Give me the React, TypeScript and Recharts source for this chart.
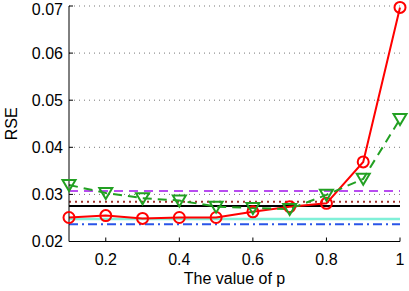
import React from 'react';
import { LineChart, Line, XAxis, YAxis, CartesianGrid, Label } from 'recharts';

const pValues = [0.1, 0.2, 0.3, 0.4, 0.5, 0.6, 0.7, 0.8, 0.9, 1.0];
const redSeries = [0.0251, 0.0255, 0.0249, 0.0251, 0.0251, 0.0263, 0.0274, 0.0281, 0.0369, 0.0697];
const greenSeries = [0.0320, 0.0303, 0.0292, 0.0287, 0.0274, 0.0271, 0.0269, 0.0299, 0.0333, 0.0460];
const baselineValues = [0.03072, 0.02845, 0.02754, 0.02478, 0.02365];
const xTicks = [0.2, 0.4, 0.6, 0.8, 1];
const yTicks = [0.02, 0.03, 0.04, 0.05, 0.06, 0.07];
const yTickLabels = ['0.02', '0.03', '0.04', '0.05', '0.06', '0.07'];
const xTickLabels = ['0.2', '0.4', '0.6', '0.8', '1'];

const baselineStyles = [
  { color: '#b84cf0', dash: '9 6', width: 2 },
  { color: '#a0302a', dash: '2 4', width: 2 },
  { color: '#000000', dash: undefined, width: 2 },
  { color: '#80f0d8', dash: undefined, width: 2.5 },
  { color: '#2a55e8', dash: '9 4 2 4', width: 2 },
];

const data = pValues.map((p, i) => {
  const row: Record<string, number> = { p, red: redSeries[i], green: greenSeries[i] };
  baselineValues.forEach((v, j) => {
    row['b' + j] = v;
  });
  return row;
});

const FONT = '"Liberation Sans", Arial, Helvetica, sans-serif';

const TriangleDot = (props: any) => {
  const { cx, cy, index } = props;
  if (cx == null || cy == null) return <g key={'t' + index} />;
  const d = `M${cx - 6.5},${cy - 5} L${cx + 6.5},${cy - 5} L${cx},${cy + 6} Z`;
  return <path key={'t' + index} d={d} fill="none" stroke="#22a022" strokeWidth={2} strokeLinejoin="miter" />;
};

const fmtX = (v: number) => {
  const i = xTicks.indexOf(v);
  return i >= 0 ? xTickLabels[i] : String(v);
};
const fmtY = (v: number) => {
  const i = yTicks.findIndex((t) => Math.abs(t - v) < 1e-9);
  return i >= 0 ? yTickLabels[i] : String(v);
};

export default function App() {
  return (
    <div style={{ position: 'absolute', left: 0, top: 0, width: 409, height: 291, background: '#fff' }}>
      <LineChart
        width={409}
        height={291}
        data={data}
        margin={{ top: 6, right: 9, left: 0, bottom: 0 }}
        style={{ fontFamily: FONT }}
      >
        <CartesianGrid vertical={false} horizontal={true} stroke="#777" strokeDasharray="1 4" />
        <XAxis
          dataKey="p"
          type="number"
          domain={[0.1, 1]}
          ticks={xTicks}
          tickFormatter={fmtX}
          height={49.5}
          tickSize={-4}
          tickMargin={16}
          stroke="#000"
          tick={{ fill: '#000', fontSize: 16, fontFamily: FONT }}
          axisLine={{ stroke: '#000' }}
          tickLine={{ stroke: '#000' }}
        >
          <Label
            content={() => (
              <text x={234.5} y={284} textAnchor="middle" fontSize={16} fontFamily={FONT} fill="#000">
                The value of p
              </text>
            )}
          />
        </XAxis>
        <XAxis
          xAxisId="top"
          orientation="top"
          type="number"
          dataKey="p"
          domain={[0.1, 1]}
          ticks={xTicks}
          tickFormatter={() => ''}
          height={0}
          tickSize={-4}
          stroke="#000"
          axisLine={{ stroke: '#000' }}
          tickLine={{ stroke: '#000' }}
        />
        <YAxis
          type="number"
          domain={[0.02, 0.07]}
          ticks={yTicks}
          tickFormatter={fmtY}
          width={69}
          tickSize={-4}
          tickMargin={10}
          stroke="#000"
          tick={{ fill: '#000', fontSize: 16, fontFamily: FONT }}
          axisLine={{ stroke: '#000' }}
          tickLine={{ stroke: '#000' }}
        >
          <Label
            content={() => (
              <text
                x={17}
                y={123.75}
                transform="rotate(-90 17 123.75)"
                textAnchor="middle"
                fontSize={16}
                fontFamily={FONT}
                fill="#000"
              >
                RSE
              </text>
            )}
          />
        </YAxis>
        <YAxis
          yAxisId="right"
          orientation="right"
          type="number"
          domain={[0.02, 0.07]}
          ticks={yTicks}
          tickFormatter={() => ''}
          width={0}
          tickSize={-4}
          stroke="#000"
          axisLine={{ stroke: '#000' }}
          tickLine={{ stroke: '#000' }}
        />
        {baselineValues.map((_, j) => (
          <Line
            key={'b' + j}
            dataKey={'b' + j}
            stroke={baselineStyles[j].color}
            strokeWidth={baselineStyles[j].width}
            strokeDasharray={baselineStyles[j].dash}
            dot={false}
            activeDot={false}
            isAnimationActive={false}
            type="linear"
          />
        ))}
        <Line
          dataKey="red"
          stroke="#ff0000"
          strokeWidth={2}
          type="linear"
          dot={{ r: 5.5, stroke: '#ff0000', strokeWidth: 2, fill: 'none' }}
          activeDot={false}
          isAnimationActive={false}
        />
        <Line
          dataKey="green"
          stroke="#22a022"
          strokeWidth={2}
          strokeDasharray="9 6"
          type="linear"
          dot={TriangleDot}
          activeDot={false}
          isAnimationActive={false}
        />
      </LineChart>
    </div>
  );
}
